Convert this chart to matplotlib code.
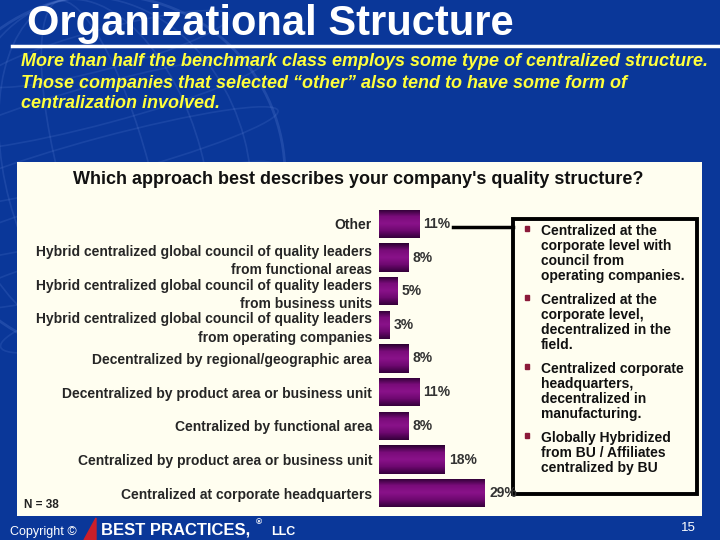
import matplotlib
matplotlib.use('Agg')
import matplotlib.pyplot as plt
import numpy as np
from matplotlib.colors import LinearSegmentedColormap
from matplotlib.patches import Rectangle, Ellipse, Circle, Polygon

plt.rcParams['font.family'] = ['Liberation Sans', 'DejaVu Sans']

# data, listed bottom to top as drawn
categories = ['Centralized at corporate headquarters',
              'Centralized by product area or business unit',
              'Centralized by functional area',
              'Decentralized by product area or business unit',
              'Decentralized by regional/geographic area',
              'Hybrid centralized global council of quality leaders\nfrom operating companies',
              'Hybrid centralized global council of quality leaders\nfrom business units',
              'Hybrid centralized global council of quality leaders\nfrom functional areas',
              'Other']
values = [29, 18, 8, 11, 8, 3, 5, 8, 11]

title = 'Organizational Structure'
subtitle = ['More than half the benchmark class employs some type of centralized structure.',
            'Those companies that selected \u201cother\u201d also tend to have some form of',
            'centralization involved.']
question = "Which approach best describes your company's quality structure?"
bullets = [['Centralized at the', 'corporate level with', 'council from', 'operating companies.'],
           ['Centralized at the', 'corporate level,', 'decentralized in the', 'field.'],
           ['Centralized corporate', 'headquarters,', 'decentralized in', 'manufacturing.'],
           ['Globally Hybridized', 'from BU / Affiliates', 'centralized by BU']]
sample_note = 'N = 38'

W, H = 720, 540
fig = plt.figure(figsize=(7.2, 5.4), dpi=100)
bg_color = '#0a3799'
fig.patch.set_facecolor(bg_color)

# page layer in pixel coordinates
page = fig.add_axes([0, 0, 1, 1])
page.set_xlim(0, W)
page.set_ylim(H, 0)
page.axis('off')

# faint globe watermark
gc, R = (105, 175), 180
gcol = '#6d8fe0'
page.add_patch(Circle(gc, R, fill=False, ec=gcol, lw=2, alpha=0.22))
for w in [0.25, 0.55, 0.8]:
    page.add_patch(Ellipse(gc, 2 * R * w, 2 * R, angle=-15, fill=False, ec=gcol, lw=1.2, alpha=0.18))
for f in [-0.7, -0.4, -0.1, 0.2, 0.5, 0.8]:
    page.add_patch(Ellipse((gc[0], gc[1] + f * R), 2 * R * np.sqrt(1 - f ** 2), 40, angle=-15,
                           fill=False, ec=gcol, lw=1.2, alpha=0.16))

# cream panel
page.add_patch(Rectangle((17, 162), 685, 354, fc='#fffef0', ec='none'))

# title and subtitle
page.text(27, 24, title, fontsize=30, weight='bold', color='white', va='center')
page.plot([12, 720], [46, 46], color='white', lw=2.5)
for k, line in enumerate(subtitle):
    page.text(21, 62 + k * 21, line, fontsize=13, weight='bold', style='italic',
              color='#ffff3c', va='center')

page.text(358, 179, question, ha='center', va='center', fontsize=13, weight='bold', color='#111111')

# bar chart
ax = fig.add_axes([379 / W, 1 - 510 / H, (512 - 379) / W, 303 / H])
ax.set_facecolor('none')
y = np.arange(len(categories))
bars = ax.barh(y, values, height=0.85, color='#7a0a7a', zorder=2)

cmap = LinearSegmentedColormap.from_list('purp', ['#35003a', '#6e0870', '#8a128a', '#7a0c7a', '#2a0030'])
grad = np.linspace(0, 1, 64).reshape(-1, 1)
for bar in bars:
    x0, y0 = bar.get_x(), bar.get_y()
    img = ax.imshow(grad, extent=[x0, x0 + bar.get_width(), y0, y0 + bar.get_height()],
                    aspect='auto', cmap=cmap, origin='lower', zorder=3)
    img.set_clip_path(bar)

for i, v in enumerate(values):
    ax.annotate('{}%'.format(v), xy=(v, i), xytext=(3, 0), textcoords='offset points',
                va='center', ha='left', fontsize=10, weight='bold', color='#333333')

ax.set_xlim(0, (512 - 379) / 3.65)
ax.set_ylim(-0.5, 8.5)
ax.set_yticks(y)
ax.set_yticklabels(categories, fontsize=10, weight='bold', color='#262626', linespacing=1.4)
ax.set_xticks([])
ax.tick_params(axis='y', length=0, pad=5)
for s in ax.spines.values():
    s.set_visible(False)

# callout box for "Other"
page.add_patch(Rectangle((513, 219), 184, 275, fill=False, ec='black', lw=2.8))
page.plot([453, 513], [227, 227], color='black', lw=2.5)
for k, para in enumerate(bullets):
    y0 = 231 + k * 69
    page.add_patch(Rectangle((525, y0 - 5), 4, 5, color='#8b1a3a'))
    for j, line in enumerate(para):
        page.text(541, y0 + j * 15, line, va='center', fontsize=10, weight='bold', color='#111111')

page.text(24, 505, sample_note, fontsize=8.5, weight='bold', va='center', color='#222222')

# footer
page.text(10, 532, 'Copyright \u00a9', fontsize=9, color='white', va='center')
page.add_patch(Polygon([(84, 540), (96, 518), (96, 540)], color='#cc1f2a'))
page.text(101, 530, 'BEST PRACTICES,', fontsize=12, weight='bold', color='white', va='center')
page.text(256, 523, '\u00ae', fontsize=6, weight='bold', color='white', va='center')
page.text(271, 532, 'LLC', fontsize=9, weight='bold', color='white', va='center')
page.text(696, 528, '15', fontsize=9.5, color='white', va='center', ha='right')

fig.savefig('out.png', dpi=100, facecolor=fig.get_facecolor())
